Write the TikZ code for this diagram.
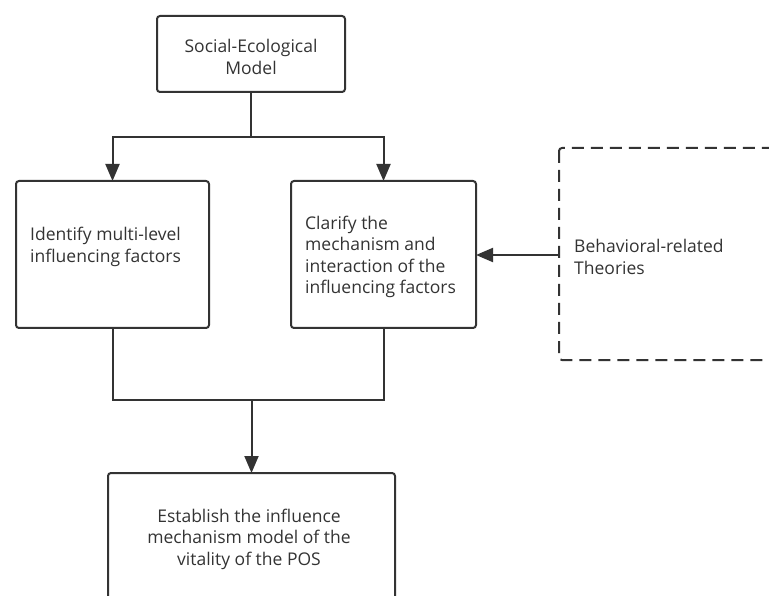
\documentclass[tikz,border=0pt]{standalone}
\usepackage{fontspec}
\setmainfont{Open Sans}
\usetikzlibrary{arrows.meta}
\definecolor{ink}{HTML}{333333}
\begin{document}
\begin{tikzpicture}[x=1pt,y=-1pt,
  box/.style={draw=ink, line width=2pt, rounded corners=3pt},
  dbox/.style={draw=ink, line width=2pt, rounded corners=3pt, dash pattern=on 12pt off 7pt},
  conn/.style={draw=ink, line width=2pt},
  arr/.style={conn, -{Triangle[length=17pt,width=14pt]}},
  txt/.style={text=ink, font=\fontsize{17.5}{21.5}\selectfont, inner sep=0pt},
  lab/.style={txt, align=left, anchor=west},
  clab/.style={txt, align=center}]
\useasboundingbox (0,0) rectangle (769,596);
\begin{scope}
\clip (0,0) rectangle (769,596);
% boxes
\draw[box] (157,16) rectangle (345,92);
\node[clab] (sem) at (251,57) {Social-Ecological\\Model};
\coordinate (semB) at (251,92);

\draw[box] (16,181) rectangle (209,328);
\coordinate (lT) at (112.5,181);
\coordinate (lB) at (112.5,328);
\node[lab] (ltxt) at (30,247) {Identify multi-level\\influencing factors};

\draw[box] (291,181) rectangle (476,328);
\coordinate (mT) at (383.5,181);
\coordinate (mB) at (383.5,328);
\coordinate (mR) at (476,255);
\node[lab] (mtxt) at (305,257) {Clarify the\\mechanism and\\interaction of the\\influencing factors};

\draw[dbox] (559,148) rectangle (800,360);
\coordinate (dL) at (559,255);
\node[lab] (dtxt) at (574,257) {Behavioral-related\\Theories};

\draw[box] (108,473) rectangle (395,640);
\coordinate (bT) at (251.5,473);
\node[clab] (btxt) at (249,539) {Establish the influence\\mechanism model of the\\vitality of the POS};

% connectors
\coordinate (j1) at (251,137);
\coordinate (j1l) at (112.5,137);
\coordinate (j1r) at (383.5,137);
\draw[conn] (semB) -- (j1);
\draw[arr] (j1) -- (j1l) -- (lT);
\draw[arr] (j1) -- (j1r) -- (mT);

\coordinate (j2l) at (112.5,400);
\coordinate (j2r) at (383.5,400);
\coordinate (j2) at (251.5,400);
\draw[conn] (lB) -- (j2l) -- (j2r) -- (mB);
\draw[arr] (j2) -- (bT);

\draw[arr] (dL) -- (mR);
\end{scope}
\end{tikzpicture}
\end{document}
